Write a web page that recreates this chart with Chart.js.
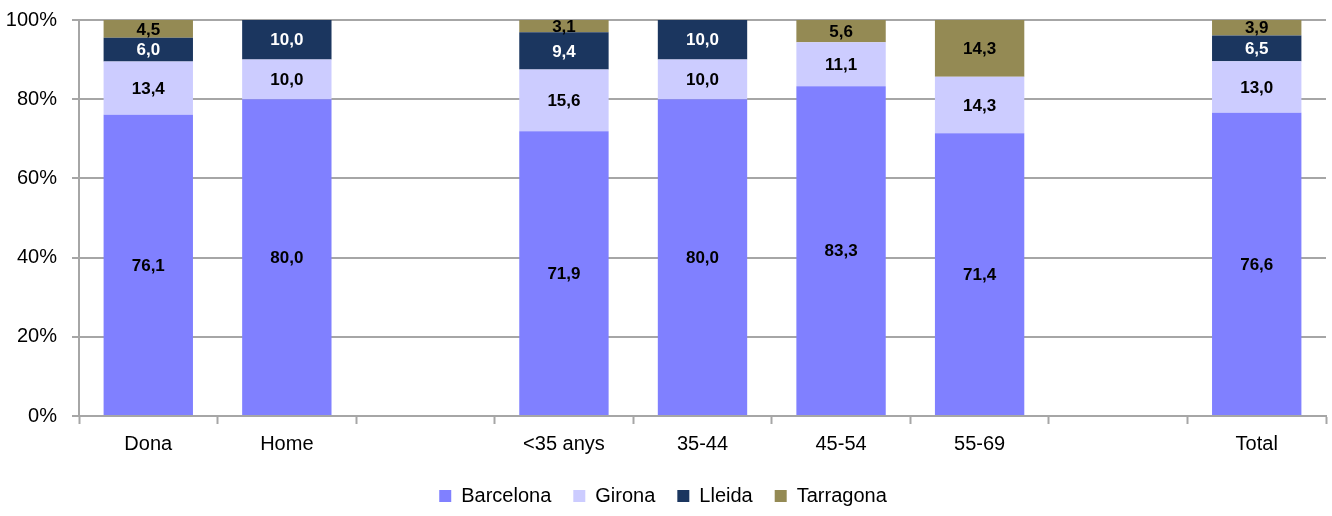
<!DOCTYPE html>
<html>
<head>
<meta charset="utf-8">
<script src="https://cdn.jsdelivr.net/npm/chart.js@4.4.0/dist/chart.umd.min.js"></script>
<style>
  html, body { margin: 0; padding: 0; background: #fff; }
</style>
</head>
<body>
<canvas id="chart" width="1332" height="516"></canvas>
<script>
const FONT = '"Liberation Sans Narrow", "Arial Narrow", "Liberation Sans", Arial, sans-serif';

// categories (blank entries are the gaps between groups)
const categories = ['Dona', 'Home', '', '<35 anys', '35-44', '45-54', '55-69', '', 'Total'];

// shares by province, %
const barcelona = [76.1, 80.0, null, 71.9, 80.0, 83.3, 71.4, null, 76.6];
const girona    = [13.4, 10.0, null, 15.6, 10.0, 11.1, 14.3, null, 13.0];
const lleida    = [6.0, 10.0, null, 9.4, 10.0, 0, 0, null, 6.5];
const tarragona = [4.5, 0, null, 3.1, 0, 5.6, 14.3, null, 3.9];

const yTicks = [0, 20, 40, 60, 80, 100];

const BCN = '#8080FF', GIR = '#CCCCFF', LLE = '#1B365F', TAR = '#948A54';
const GRID = '#A6A6A6';

// value labels centred in each segment
const segmentLabels = {
  id: 'segmentLabels',
  afterDatasetsDraw(chart) {
    const ctx = chart.ctx;
    ctx.save();
    ctx.font = 'bold 17px ' + FONT;
    ctx.textAlign = 'center';
    ctx.textBaseline = 'middle';
    chart.data.datasets.forEach((ds, i) => {
      const meta = chart.getDatasetMeta(i);
      meta.data.forEach((bar, j) => {
        const v = ds.data[j];
        if (!v) return;
        ctx.fillStyle = ds.labelColor;
        ctx.fillText(v.toFixed(1).replace('.', ','), bar.x, (bar.y + bar.base) / 2 + 1);
      });
    });
    ctx.restore();
  }
};

new Chart(document.getElementById('chart'), {
  type: 'bar',
  data: {
    labels: categories,
    datasets: [
      { label: 'Barcelona', data: barcelona, backgroundColor: BCN, labelColor: '#000' },
      { label: 'Girona',    data: girona,    backgroundColor: GIR, labelColor: '#000' },
      { label: 'Lleida',    data: lleida,    backgroundColor: LLE, labelColor: '#fff' },
      { label: 'Tarragona', data: tarragona, backgroundColor: TAR, labelColor: '#000' }
    ]
  },
  options: {
    responsive: false,
    animation: false,
    devicePixelRatio: 1,
    layout: { padding: { top: 0, right: 6, left: 0, bottom: 0 } },
    datasets: { bar: { barPercentage: 0.645, categoryPercentage: 1, borderWidth: 0 } },
    plugins: {
      tooltip: { enabled: false },
      legend: {
        position: 'bottom',
        labels: {
          color: '#000',
          font: { family: FONT, size: 20 },
          boxWidth: 12, boxHeight: 12,
          padding: 22
        }
      }
    },
    scales: {
      x: {
        stacked: true,
        grid: { offset: true, drawOnChartArea: false, color: GRID, tickLength: 8, tickWidth: 2 },
        border: { color: GRID, width: 2 },
        ticks: { color: '#000', font: { family: FONT, size: 20 }, padding: 8, maxRotation: 0, autoSkip: false }
      },
      y: {
        stacked: true,
        min: 0, max: 100,
        afterFit(scale) {
          scale.width = 79;
          scale.paddingTop = 20;
          scale.paddingBottom = 20;
        },
        afterBuildTicks(scale) { scale.ticks = yTicks.map(v => ({ value: v })); },
        grid: { color: GRID, lineWidth: 2, tickLength: 7 },
        border: { color: GRID, width: 2 },
        ticks: {
          color: '#000', font: { family: FONT, size: 20 }, padding: 15,
          callback: v => v + '%'
        }
      }
    }
  },
  plugins: [segmentLabels]
});
</script>
</body>
</html>
